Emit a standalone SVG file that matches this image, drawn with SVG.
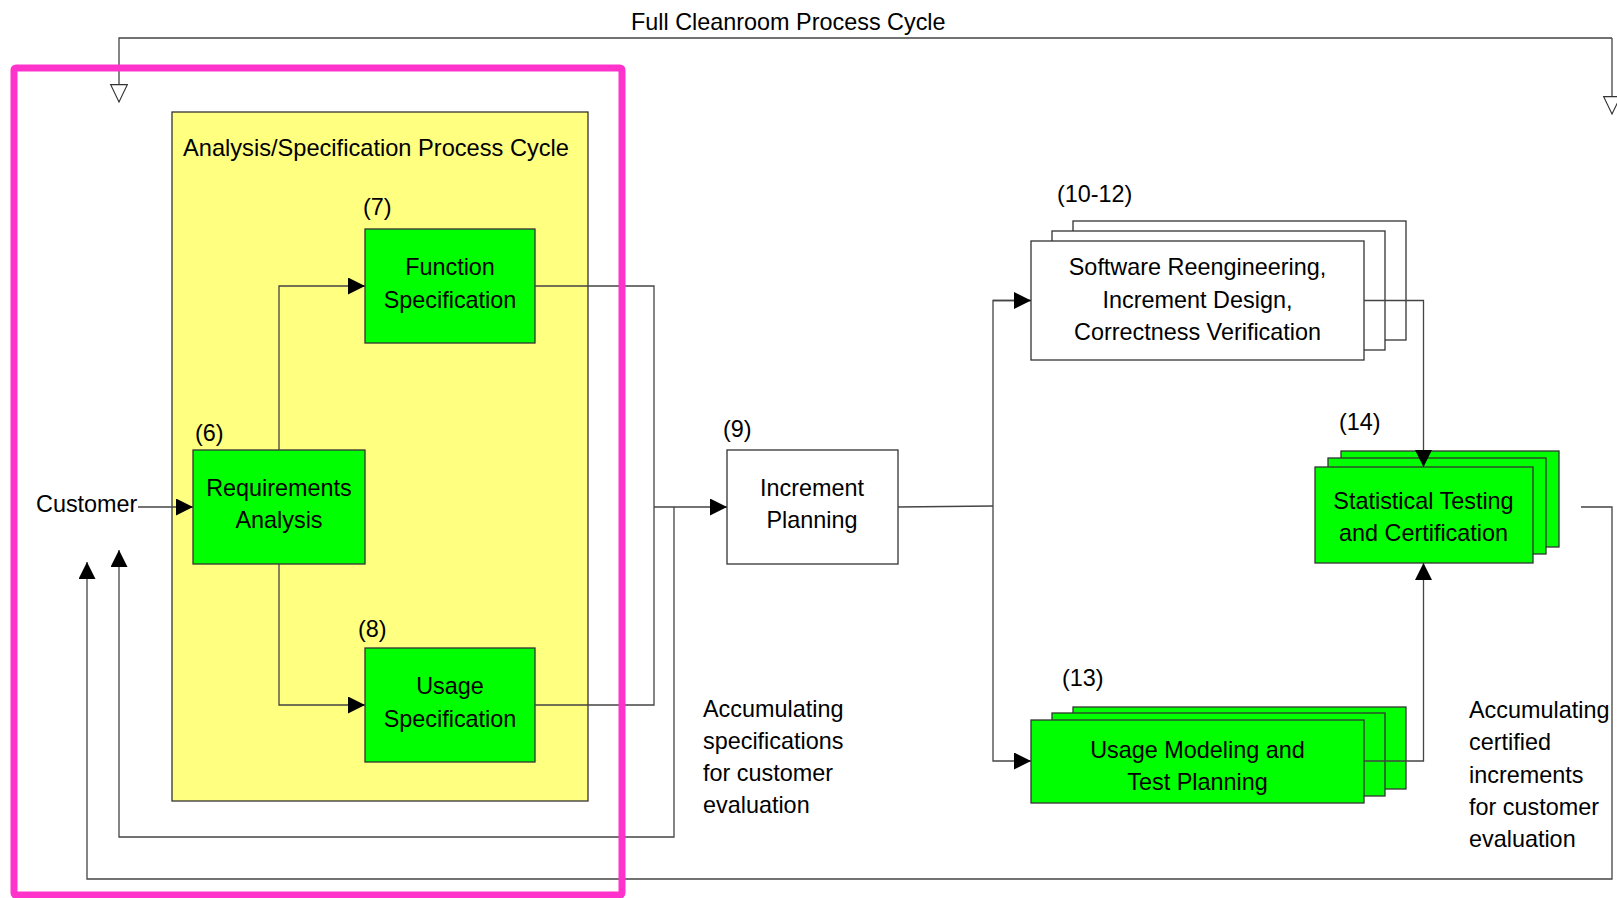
<svg xmlns="http://www.w3.org/2000/svg" width="1617" height="898" viewBox="0 0 1617 898">
<style>
text{font-family:"Liberation Sans",Arial,sans-serif;font-size:23.4px;fill:#000}
.c{text-anchor:middle}
.box{stroke:#333;stroke-width:1.3}
.g{fill:#00ff00}
.w{fill:#fff}
.ln{fill:none;stroke:#444;stroke-width:1.3}
</style>
<defs>
<marker id="ah" markerUnits="userSpaceOnUse" markerWidth="18" markerHeight="18" refX="17" refY="8.5" orient="auto" viewBox="0 0 18 18">
<path d="M0,0 L17,8.5 L0,17 z" fill="#000"/>
</marker>
<marker id="oh" markerUnits="userSpaceOnUse" markerWidth="20" markerHeight="20" refX="18" refY="9" orient="auto" viewBox="0 0 20 20">
<path d="M0.6,0.6 L18,9 L0.6,17.4 z" fill="#fff" stroke="#333" stroke-width="1.1"/>
</marker>
</defs>
<rect width="1617" height="898" fill="#fff"/>
<text x="631" y="30">Full Cleanroom Process Cycle</text>

<g id="spec-cycle">
<rect x="172" y="112" width="416" height="689" fill="#ffff80" class="box"/>
<text x="183" y="156" textLength="386" lengthAdjust="spacingAndGlyphs">Analysis/Specification Process Cycle</text>
</g>

<g id="customer"><text x="36" y="512">Customer</text></g>

<g id="req-analysis">
<text x="195" y="441">(6)</text>
<rect x="193" y="450" width="172" height="114" class="box g"/>
<text class="c" x="279" y="496">Requirements</text>
<text class="c" x="279" y="528">Analysis</text>
</g>

<g id="function-spec">
<text x="363" y="215">(7)</text>
<rect x="365" y="229" width="170" height="114" class="box g"/>
<text class="c" x="450" y="275">Function</text>
<text class="c" x="450" y="308">Specification</text>
</g>

<g id="usage-spec">
<text x="358" y="637">(8)</text>
<rect x="365" y="648" width="170" height="114" class="box g"/>
<text class="c" x="450" y="694">Usage</text>
<text class="c" x="450" y="727">Specification</text>
</g>

<g id="increment-planning">
<text x="723" y="437">(9)</text>
<rect x="727" y="450" width="171" height="114" class="box w"/>
<text class="c" x="812" y="496">Increment</text>
<text class="c" x="812" y="528">Planning</text>
</g>

<g id="software-reeng">
<text x="1057" y="202">(10-12)</text>
<rect x="1073" y="221" width="333" height="119" class="box w"/>
<rect x="1052" y="231" width="333" height="119" class="box w"/>
<rect x="1031" y="241" width="333" height="119" class="box w"/>
<text class="c" x="1197.5" y="275">Software Reengineering,</text>
<text class="c" x="1197.5" y="308">Increment Design,</text>
<text class="c" x="1197.5" y="340">Correctness Verification</text>
</g>

<g id="usage-modeling">
<text x="1062" y="686">(13)</text>
<rect x="1073" y="707" width="333" height="82" class="box g"/>
<rect x="1052" y="713" width="333" height="83" class="box g"/>
<rect x="1031" y="720" width="333" height="83" class="box g"/>
<text class="c" x="1197.5" y="758">Usage Modeling and</text>
<text class="c" x="1197.5" y="790">Test Planning</text>
</g>

<g id="statistical-testing">
<text x="1339" y="430">(14)</text>
<rect x="1341" y="451" width="218" height="96" class="box g"/>
<rect x="1328" y="458" width="218" height="96" class="box g"/>
<rect x="1315" y="467" width="218" height="96" class="box g"/>
<text class="c" x="1423.5" y="509">Statistical Testing</text>
<text class="c" x="1423.5" y="541">and Certification</text>
</g>

<g id="notes">
<text x="703" y="717">Accumulating</text>
<text x="703" y="749">specifications</text>
<text x="703" y="781">for customer</text>
<text x="703" y="813">evaluation</text>
<text x="1469" y="718">Accumulating</text>
<text x="1469" y="750">certified</text>
<text x="1469" y="783">increments</text>
<text x="1469" y="815">for customer</text>
<text x="1469" y="847">evaluation</text>
</g>

<g id="connectors">
<path class="ln" d="M1612,38 H119 V102" marker-end="url(#oh)"/>
<path class="ln" d="M1612,38 V114" marker-end="url(#oh)"/>
<path class="ln" d="M138,507 H193" marker-end="url(#ah)"/>
<path class="ln" d="M279,450 V286 H365" marker-end="url(#ah)"/>
<path class="ln" d="M279,564 V705 H365" marker-end="url(#ah)"/>
<path class="ln" d="M535,286 H654 V705 H535"/>
<path class="ln" d="M654,507 H727" marker-end="url(#ah)"/>
<path class="ln" d="M674,507 V837 H119 V550" marker-end="url(#ah)"/>
<path class="ln" d="M898,507 L993,506"/>
<path class="ln" d="M1031,300.5 H993 V761 H1031" marker-end="url(#ah)"/>
<path class="ln" d="M993,300.5 H1031" marker-end="url(#ah)"/>
<path class="ln" d="M1364,300.5 H1423.5 V467" marker-end="url(#ah)"/>
<path class="ln" d="M1364,761 H1423.5 V563" marker-end="url(#ah)"/>
<path class="ln" d="M1581,507 H1612 V879 H87 V562" marker-end="url(#ah)"/>
</g>

<rect id="highlight" x="14" y="68" width="608" height="827" rx="2" fill="none" stroke="#ff33cc" stroke-width="7"/>
</svg>
